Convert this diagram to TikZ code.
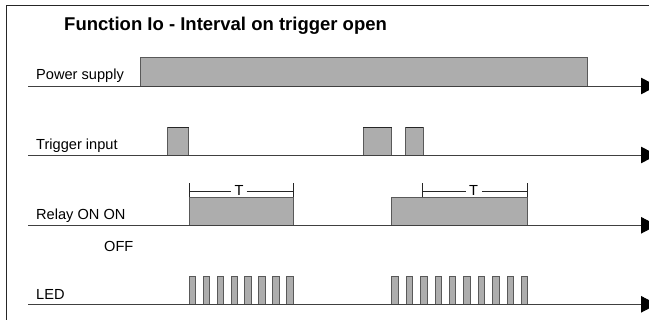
\documentclass[tikz,border=0pt]{standalone}
\usepackage{fontspec}
\setmainfont{Liberation Sans}
\usetikzlibrary{arrows.meta}

\begin{document}
\begin{tikzpicture}[x=1pt,y=-1pt,
	lbl/.style={anchor=base west,inner sep=0pt,font=\fontsize{14.6}{16}\selectfont},
	axis/.style={draw=black!75,line width=0.9pt,-{Triangle[length=16pt,width=16.5pt,color=black]}},
	pulse/.style={draw=black!65,fill=black!32,line width=0.8pt},
	dim/.style={draw=black!85,line width=0.9pt}]
	\useasboundingbox (0,0) rectangle (649,320);
	\draw[line width=1pt,black!85] (649,5.7) -- (6,5.7) -- (6,320);
	\node[anchor=base west,inner sep=0pt,font=\bfseries\fontsize{18.5}{20}\selectfont] (title) at (64,30.5) {Function Io - Interval on trigger open};

	\node[lbl] (ps) at (36,80) {Power supply};
	\node[lbl] (trig) at (36,149.3) {Trigger input};
	\node[lbl] (relay) at (36,220) {Relay ON ON};
	\node[lbl] (off) at (104,252) {OFF};
	\node[lbl] (led) at (36,300) {LED};

	\filldraw[pulse] (140,57.7) rectangle (587.7,86);
	\filldraw[pulse] (167.7,127) rectangle (188.7,155);
	\filldraw[pulse] (363.3,127) rectangle (391.7,155);
	\filldraw[pulse] (405.7,127) rectangle (423.3,155);
	\draw[dim] (167.7,127) -- (188.7,127) (363.3,127) -- (391.7,127) (405.7,127) -- (423.3,127);
	\filldraw[pulse] (189,197.5) rectangle (293.3,225.3);
	\filldraw[pulse] (391,197.5) rectangle (527.7,225.3);
	\foreach \i in {0,...,7}
		\filldraw[pulse] ({189+13.97*\i},276.7) rectangle ++(6.5,27.6);
	\foreach \i in {0,...,9}
		\filldraw[pulse] ({391.7+14.4*\i},276.7) rectangle ++(6.5,27.6);

	\coordinate (ps a) at (28,86);
	\coordinate (ps b) at (657,86);
	\coordinate (trig a) at (28,155);
	\coordinate (trig b) at (657,155);
	\coordinate (relay a) at (28,225.3);
	\coordinate (relay b) at (657,225.3);
	\coordinate (led a) at (28,304.3);
	\coordinate (led b) at (657,304.3);
	\draw[axis] (ps a) -- (ps b);
	\draw[axis] (trig a) -- (trig b);
	\draw[axis] (relay a) -- (relay b);
	\draw[axis] (led a) -- (led b);

	\node[inner sep=0pt,minimum width=15pt,font=\fontsize{14.6}{16}\selectfont] (t 1) at (239,190.5) {T};
	\node[inner sep=0pt,minimum width=16pt,font=\fontsize{14.6}{16}\selectfont] (t 2) at (473.7,190.5) {T};
	\draw[dim] (189,183.3) -- (189,196.7);
	\draw[dim] (293.3,183.3) -- (293.3,196.7);
	\draw[dim] (189,191) -- (t 1.west |- 0,191);
	\draw[dim] (t 1.east |- 0,191) -- (293.3,191);
	\draw[dim] (422.7,183.3) -- (422.7,196.7);
	\draw[dim] (527.7,183.3) -- (527.7,196.7);
	\draw[dim] (422.7,191) -- (t 2.west |- 0,191);
	\draw[dim] (t 2.east |- 0,191) -- (527.7,191);
\end{tikzpicture}
\end{document}
